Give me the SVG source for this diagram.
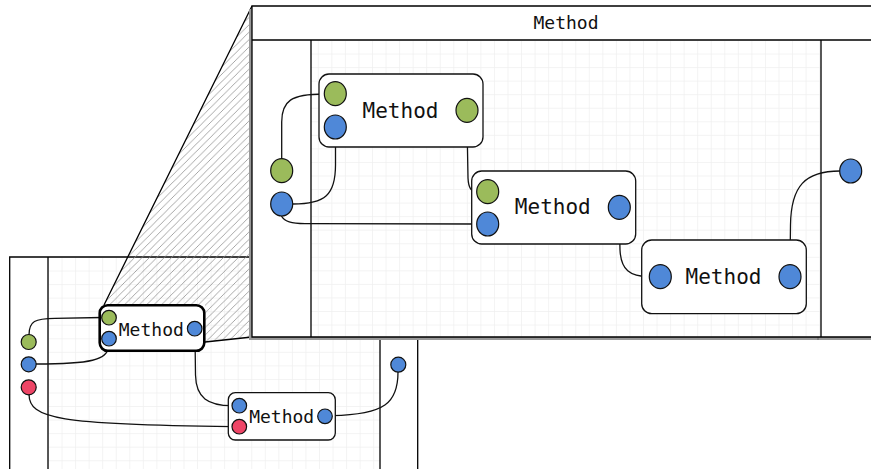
<svg xmlns="http://www.w3.org/2000/svg" width="871" height="469" viewBox="0 0 871 469">
<style>
.frame{fill:none;stroke:#000;stroke-width:1.3}
.wire{fill:none;stroke:#111;stroke-width:1.3}
.node{fill:#fff;stroke:#111;stroke-width:1.3}
.sel{fill:#fff;stroke:#000;stroke-width:2.6}
.g{fill:#9bbb5b;stroke:#111;stroke-width:1.2}
.b{fill:#4f88d8;stroke:#111;stroke-width:1.2}
.r{fill:#ee4566;stroke:#111;stroke-width:1.2}
.lbl{font-family:"DejaVu Sans Mono","Liberation Mono",monospace;fill:#111;text-anchor:middle}
</style>
<defs>
<pattern id="gridS" patternUnits="userSpaceOnUse" x="48" y="257" width="13.55" height="13.55">
<path d="M0 0H13.55M0 0V13.55" fill="none" stroke="#efefef" stroke-width="1.4"/>
</pattern>
<pattern id="gridB" patternUnits="userSpaceOnUse" x="317.8" y="40" width="13.55" height="13.55">
<path d="M0 0H13.55M0 0V13.55" fill="none" stroke="#efefef" stroke-width="1.4"/>
</pattern>
<pattern id="hatch" patternUnits="userSpaceOnUse" width="7.4" height="7.4">
<path d="M-1 8.4L8.4 -1M-1 1L1 -1M6.4 8.4L8.4 6.4" stroke="#8a8a8a" stroke-width="0.75"/>
</pattern>
</defs>
<rect width="871" height="469" fill="#fff"/>

<g id="outer-panel">
<rect x="48" y="257" width="332" height="220" fill="url(#gridS)"/>
<path class="frame" d="M9.7 469V257H417.7V469M48 257V469M380 257V469"/>
</g>

<g id="zoom-hatch">
<polygon points="104,305 252,6 252,337 205,342 205,305" fill="url(#hatch)"/>
<path class="frame" d="M104 305L252 6M205 342L252 337"/>
</g>

<g id="zoom-panel">
<rect x="249" y="9" width="630" height="331" fill="#999"/>
<line x1="818" y1="337" x2="818" y2="340" stroke="#666" stroke-width="1"/>
<rect x="252" y="6" width="625" height="331" fill="#fff"/>
<rect x="311" y="40" width="510" height="297" fill="url(#gridB)"/>
<path class="frame" d="M880 6H252V337H880M252 40H880M311 40V337M821 40V337"/>
<text class="lbl" x="566" y="29" font-size="18">Method</text>
</g>

<g id="connectors">
<path class="wire" d="M29 335C29 321 35 318.5 55 318.3L102 317.5"/>
<path class="wire" d="M36 364C90 364 108.5 360 108.5 346"/>
<path class="wire" d="M29 394C29 419 58 424.5 232 426.7"/>
<path class="wire" d="M195 336L195.5 375C196 398 208 405.5 232 405.7"/>
<path class="wire" d="M332 415.7C385 414.5 398 403 398 372"/>
<path class="wire" d="M281.7 159L281.7 122C281.7 101 291 94 324 94"/>
<path class="wire" d="M293 204C325 204 335.5 195 335.5 165L335.5 139"/>
<path class="wire" d="M281 215C284 222 292 223.5 305 223.7L476 224"/>
<path class="wire" d="M467 122L468 178C468.5 188 471 191.5 477 191.7"/>
<path class="wire" d="M619.3 219L620 250C621 270 630 276.7 649 276.7"/>
<path class="wire" d="M790 265L790.5 225C791 186 805 171 840 171"/>
</g>

<g id="outer-inputs">
<circle class="g" cx="28.7" cy="342" r="7.5"/>
<circle class="b" cx="28.7" cy="364.3" r="7.5"/>
<circle class="r" cx="28.7" cy="387.3" r="7.5"/>
</g>
<g id="outer-output">
<circle class="b" cx="398.3" cy="364.7" r="7.5"/>
</g>

<g id="method-small-1">
<rect class="sel" x="99.7" y="305.2" width="104.6" height="45.6" rx="8"/>
<text class="lbl" x="151.3" y="335.7" font-size="18">Method</text>
<circle class="g" cx="109" cy="317.7" r="7.3"/>
<circle class="b" cx="109" cy="338.7" r="7.3"/>
<circle class="b" cx="194.7" cy="328.7" r="7.3"/>
</g>

<g id="method-small-2">
<rect class="node" x="228.3" y="392.7" width="107" height="47.3" rx="7"/>
<text class="lbl" x="281.7" y="422.7" font-size="18">Method</text>
<circle class="b" cx="239.3" cy="405.7" r="7.3"/>
<circle class="r" cx="239.3" cy="426.7" r="7.3"/>
<circle class="b" cx="325" cy="416.3" r="7.3"/>
</g>

<g id="zoom-inputs">
<ellipse class="g" cx="281.7" cy="170.7" rx="11" ry="12"/>
<ellipse class="b" cx="281.7" cy="204" rx="11" ry="12"/>
</g>
<g id="zoom-output">
<ellipse class="b" cx="850.7" cy="171" rx="11" ry="12"/>
</g>

<g id="method-a">
<rect class="node" x="319" y="74" width="164" height="73" rx="10"/>
<text class="lbl" x="400.5" y="118.3" font-size="21">Method</text>
<ellipse class="g" cx="335.3" cy="93.7" rx="11" ry="12"/>
<ellipse class="b" cx="335.3" cy="127" rx="11" ry="12"/>
<ellipse class="g" cx="467" cy="110.3" rx="11" ry="12"/>
</g>

<g id="method-b">
<rect class="node" x="471.7" y="171" width="164" height="73" rx="10"/>
<text class="lbl" x="552.8" y="214.3" font-size="21">Method</text>
<ellipse class="g" cx="487.7" cy="191.7" rx="11" ry="12"/>
<ellipse class="b" cx="487.7" cy="224" rx="11" ry="12"/>
<ellipse class="b" cx="619.3" cy="207.3" rx="11" ry="12"/>
</g>

<g id="method-c">
<rect class="node" x="641.7" y="240" width="164.6" height="73.7" rx="10"/>
<text class="lbl" x="723.5" y="284" font-size="21">Method</text>
<ellipse class="b" cx="660.3" cy="276.7" rx="11" ry="12"/>
<ellipse class="b" cx="790" cy="276.7" rx="11" ry="12"/>
</g>
</svg>
